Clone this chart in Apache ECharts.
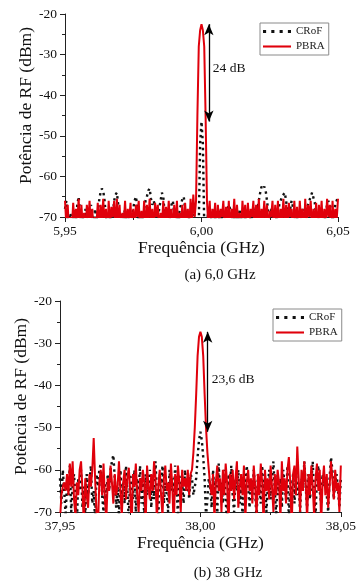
<!DOCTYPE html>
<html>
<head>
<meta charset="utf-8">
<script src="https://cdn.jsdelivr.net/npm/echarts@6/dist/echarts.min.js"></script>
<style>
html, body { margin: 0; padding: 0; background: #fff; }
#chart { width: 359px; height: 583px; }
</style>
</head>
<body>
<div id="chart"></div>
<script>
// (a) 6,0 GHz - frequencias (GHz), passo de 0,5 MHz
var freqA = [
    5.9500, 5.9505, 5.9510, 5.9515, 5.9520, 5.9525, 5.9530, 5.9535, 5.9540, 5.9545,
    5.9550, 5.9555, 5.9560, 5.9565, 5.9570, 5.9575, 5.9580, 5.9585, 5.9590, 5.9595,
    5.9600, 5.9605, 5.9610, 5.9615, 5.9620, 5.9625, 5.9630, 5.9635, 5.9640, 5.9645,
    5.9650, 5.9655, 5.9660, 5.9665, 5.9670, 5.9675, 5.9680, 5.9685, 5.9690, 5.9695,
    5.9700, 5.9705, 5.9710, 5.9715, 5.9720, 5.9725, 5.9730, 5.9735, 5.9740, 5.9745,
    5.9750, 5.9755, 5.9760, 5.9765, 5.9770, 5.9775, 5.9780, 5.9785, 5.9790, 5.9795,
    5.9800, 5.9805, 5.9810, 5.9815, 5.9820, 5.9825, 5.9830, 5.9835, 5.9840, 5.9845,
    5.9850, 5.9855, 5.9860, 5.9865, 5.9870, 5.9875, 5.9880, 5.9885, 5.9890, 5.9895,
    5.9900, 5.9905, 5.9910, 5.9915, 5.9920, 5.9925, 5.9930, 5.9935, 5.9940, 5.9945,
    5.9950, 5.9955, 5.9960, 5.9965, 5.9970, 5.9975, 5.9980, 5.9985, 5.9990, 5.9995,
    6.0000, 6.0005, 6.0010, 6.0015, 6.0020, 6.0025, 6.0030, 6.0035, 6.0040, 6.0045,
    6.0050, 6.0055, 6.0060, 6.0065, 6.0070, 6.0075, 6.0080, 6.0085, 6.0090, 6.0095,
    6.0100, 6.0105, 6.0110, 6.0115, 6.0120, 6.0125, 6.0130, 6.0135, 6.0140, 6.0145,
    6.0150, 6.0155, 6.0160, 6.0165, 6.0170, 6.0175, 6.0180, 6.0185, 6.0190, 6.0195,
    6.0200, 6.0205, 6.0210, 6.0215, 6.0220, 6.0225, 6.0230, 6.0235, 6.0240, 6.0245,
    6.0250, 6.0255, 6.0260, 6.0265, 6.0270, 6.0275, 6.0280, 6.0285, 6.0290, 6.0295,
    6.0300, 6.0305, 6.0310, 6.0315, 6.0320, 6.0325, 6.0330, 6.0335, 6.0340, 6.0345,
    6.0350, 6.0355, 6.0360, 6.0365, 6.0370, 6.0375, 6.0380, 6.0385, 6.0390, 6.0395,
    6.0400, 6.0405, 6.0410, 6.0415, 6.0420, 6.0425, 6.0430, 6.0435, 6.0440, 6.0445,
    6.0450, 6.0455, 6.0460, 6.0465, 6.0470, 6.0475, 6.0480, 6.0485, 6.0490, 6.0495,
    6.0500];
var crofA = [
    -68, -66, -71, -73, -69, -72, -70, -68, -71, -67, -65, -69, -72, -70, -73, -68,
    -71, -69, -72, -67, -70, -73, -68, -71, -69, -66, -64, -63, -63.5, -66, -70, -72,
    -69, -71, -68, -70, -66, -64.5, -64, -67, -71, -69, -73, -70, -68, -72, -69, -71,
    -73, -70, -68, -66, -65, -67.5, -71, -69, -72, -70, -68, -66, -65, -63.5, -63, -65.5,
    -67, -66, -66, -69, -71, -68, -66, -64, -65, -69, -72, -70, -68, -71, -67, -66,
    -69, -72, -70, -73, -68, -67, -65.5, -65, -68, -71, -73, -70, -68, -67, -67, -70,
    -71, -73, -72, -52, -46.5, -52, -72, -74, -71,
    -69, -72, -70, -73, -68, -71, -69, -72, -70, -68, -71, -73, -69, -70, -68, -67,
    -67, -69, -72, -70, -73, -69, -71, -68, -70, -72, -69, -71, -68, -70, -73, -69,
    -71, -68, -70, -67, -68, -66, -64, -62.5, -63, -62.5, -63.5, -66, -69, -71, -68, -72,
    -70, -68, -71, -69, -67, -66, -65, -64.5, -64, -66, -69, -70, -68, -66, -66, -69,
    -72, -70, -73, -69, -71, -68, -70, -72, -69, -67, -66, -65, -64, -64, -66.5, -70,
    -72, -69, -71, -68, -70, -72, -69, -67, -66, -66, -68, -71, -69, -67, -66, -65];
var pbraA = [
    -66, -72, -67, -74, -70, -73, -66.5, -72, -68, -71, -65.5, -73, -67, -72, -69, -74,
    -67, -71, -66, -73, -68, -75, -70, -72, -66.5, -73, -67, -71, -65.5, -72, -68, -74,
    -66, -72, -67.5, -70, -66, -73, -65.5, -72, -67, -74, -69, -72, -66, -73, -68, -71,
    -66.5, -74, -68, -72, -67, -70, -66, -73, -68.5, -72, -66, -74, -67, -71, -65.5, -72,
    -68, -73, -66.5, -70, -67, -74, -69, -72, -66, -73, -67.5, -71, -66, -72, -68, -74,
    -67, -72, -66, -73, -69, -71, -67, -74, -66.5, -72, -68, -73, -65.5, -71, -64.5, -70,
    -66, -45, -28, -24, -22.5, -24, -28, -45, -66,
    -72, -66, -73, -68, -71, -66.5, -74, -67, -72, -68, -70, -66, -73, -67.5, -72, -66,
    -74, -68, -71, -65.5, -73, -67, -72, -69, -74, -66, -71, -67, -73, -66.5, -72, -68,
    -70, -66, -74, -67, -72, -65.5, -73, -68, -71, -66, -72, -67, -74, -68.5, -70, -66,
    -73, -67, -72, -66, -74, -68, -71, -65.5, -72, -67, -73, -66.5, -70, -68, -74, -66,
    -72, -67.5, -73, -66, -71, -68, -74, -65.5, -72, -67, -70, -66, -73, -68, -72, -66.5,
    -74, -67, -71, -66, -73, -68, -72, -65.5, -70, -67, -74, -66, -72, -68, -71, -65.5];

// (b) 38 GHz
var freqB = [
    37.9500, 37.9505, 37.9510, 37.9515, 37.9520, 37.9525, 37.9530, 37.9535, 37.9540, 37.9545,
    37.9550, 37.9555, 37.9560, 37.9565, 37.9570, 37.9575, 37.9580, 37.9585, 37.9590, 37.9595,
    37.9600, 37.9605, 37.9610, 37.9615, 37.9620, 37.9625, 37.9630, 37.9635, 37.9640, 37.9645,
    37.9650, 37.9655, 37.9660, 37.9665, 37.9670, 37.9675, 37.9680, 37.9685, 37.9690, 37.9695,
    37.9700, 37.9705, 37.9710, 37.9715, 37.9720, 37.9725, 37.9730, 37.9735, 37.9740, 37.9745,
    37.9750, 37.9755, 37.9760, 37.9765, 37.9770, 37.9775, 37.9780, 37.9785, 37.9790, 37.9795,
    37.9800, 37.9805, 37.9810, 37.9815, 37.9820, 37.9825, 37.9830, 37.9835, 37.9840, 37.9845,
    37.9850, 37.9855, 37.9860, 37.9865, 37.9870, 37.9875, 37.9880, 37.9885, 37.9890, 37.9895,
    37.9900, 37.9905, 37.9910, 37.9915, 37.9920, 37.9925, 37.9930, 37.9935, 37.9940, 37.9945,
    37.9950, 37.9955, 37.9960, 37.9965, 37.9970, 37.9975, 37.9980, 37.9985, 37.9990, 37.9995,
    38.0000, 38.0005, 38.0010, 38.0015, 38.0020, 38.0025, 38.0030, 38.0035, 38.0040, 38.0045,
    38.0050, 38.0055, 38.0060, 38.0065, 38.0070, 38.0075, 38.0080, 38.0085, 38.0090, 38.0095,
    38.0100, 38.0105, 38.0110, 38.0115, 38.0120, 38.0125, 38.0130, 38.0135, 38.0140, 38.0145,
    38.0150, 38.0155, 38.0160, 38.0165, 38.0170, 38.0175, 38.0180, 38.0185, 38.0190, 38.0195,
    38.0200, 38.0205, 38.0210, 38.0215, 38.0220, 38.0225, 38.0230, 38.0235, 38.0240, 38.0245,
    38.0250, 38.0255, 38.0260, 38.0265, 38.0270, 38.0275, 38.0280, 38.0285, 38.0290, 38.0295,
    38.0300, 38.0305, 38.0310, 38.0315, 38.0320, 38.0325, 38.0330, 38.0335, 38.0340, 38.0345,
    38.0350, 38.0355, 38.0360, 38.0365, 38.0370, 38.0375, 38.0380, 38.0385, 38.0390, 38.0395,
    38.0400, 38.0405, 38.0410, 38.0415, 38.0420, 38.0425, 38.0430, 38.0435, 38.0440, 38.0445,
    38.0450, 38.0455, 38.0460, 38.0465, 38.0470, 38.0475, 38.0480, 38.0485, 38.0490, 38.0495,
    38.0500];
var crofB = [
    -62, -68, -60, -65, -71, -63, -66, -59, -70, -64, -61, -67, -73, -62, -65, -60,
    -69, -64, -71, -61, -66, -63, -59, -68, -65, -72, -61, -64, -60, -58.5, -66, -70,
    -63, -67, -61, -65, -60, -58, -56.5, -62, -69, -64, -71, -60, -66, -63, -68, -59,
    -65, -72, -61, -64, -67, -60, -70, -62, -65, -59, -68, -63, -71, -61, -66, -64,
    -60, -69, -62, -67, -58, -65, -72, -61, -64, -59, -68, -63, -66, -70, -60, -65,
    -62, -67, -59, -64, -71, -61, -66, -63, -68, -60, -65, -62, -67, -61,
    -62, -66, -64, -62, -57, -53, -51, -53, -57, -62, -71, -67, -62,
    -64, -69, -60, -66, -62, -71, -58.5, -65, -63, -68, -60, -67, -73, -61, -64, -59,
    -66, -70, -62, -65, -60, -68, -63, -71, -61, -66, -59, -64, -69, -62, -67, -60,
    -65, -72, -61, -63, -68, -59, -66, -62, -70, -64, -60, -67, -63, -58, -65, -71,
    -61, -66, -62, -69, -60, -64, -67, -59, -72, -63, -65, -61, -68, -60, -66, -63,
    -70, -62, -65, -58, -64, -69, -61, -67, -63, -58, -66, -71, -62, -59, -65,
    -68, -61, -64, -63, -66, -70, -62, -57, -60, -67, -63, -61, -65, -69, -62];
var pbraB = [
    -72, -66, -64, -63, -65, -61, -66, -58.5, -64, -58, -67, -71, -63, -66, -60, -58,
    -65, -73, -62, -66, -69, -61, -64, -60, -52.5, -62, -70, -74, -63, -60, -66, -58.5,
    -67, -72, -62, -65, -59, -63, -68, -61, -66, -64, -58, -65, -71, -63, -60, -67,
    -62, -59.5, -65, -74, -61, -64, -58.5, -66, -70, -62, -65, -60, -63, -73, -59, -64,
    -67, -61, -65, -58, -62, -72, -64, -60, -66, -71, -62, -59, -65, -63, -68, -58.5,
    -64, -74, -61, -66, -59, -63, -70, -60, -64, -62, -65, -60, -66, -61,
    -60, -56, -50, -42, -33, -28.5, -27.3, -28.5, -33, -42, -50, -56, -60,
    -64, -66, -61, -72, -63, -59, -65, -62, -70, -60, -66, -58.5, -63, -74, -61, -65,
    -60, -67, -62, -58, -69, -64, -61, -66, -59, -72, -63, -60, -65, -62, -68, -59,
    -64, -71, -61, -66, -58.5, -63, -73, -60, -65, -62, -67, -59, -64, -70, -61, -66,
    -60, -63, -72, -58, -65, -62, -68, -60, -57, -63, -74, -61, -59, -66, -54.5, -62,
    -70, -60, -65, -58, -63, -72, -61, -66, -59, -64, -71, -62, -58.5, -65, -60,
    -73, -63, -59, -66, -61, -69, -64, -58, -62, -67, -60, -65, -63, -70, -59];

var SERIF = 'Liberation Serif';
var RED = '#e0000b';
// icones da legenda: pontos (CRoF) e traco continuo (PBRA)
var ICON_DOTS = 'path://M0,0h3v3h-3z M8,0h3v3h-3z M16,0h3v3h-3z M24,0h3v3h-3z';
var ICON_LINE = 'path://M0,0h27v2h-27z';

function pairs(xs, ys) {
    var out = [];
    for (var i = 0; i < xs.length; i++) {
        out.push([xs[i], ys[i]]);
    }
    return out;
}
function maxOf(arr) {
    return Math.max.apply(null, arr);
}
function comma(v) {
    return v.toFixed(2).replace('.', ',');
}

function xAxisFor(gi, min, max) {
    return {
        gridIndex: gi,
        type: 'value',
        min: min,
        max: max,
        interval: 0.05,
        name: 'Frequência (GHz)',
        nameLocation: 'middle',
        nameGap: 22,
        nameMoveOverlap: false,
        nameTextStyle: { fontFamily: SERIF, fontSize: 17.5, color: '#111' },
        axisLine: { show: true, onZero: false, lineStyle: { color: '#222', width: 1 } },
        axisTick: { show: true, length: 5, lineStyle: { color: '#222' } },
        minorTick: { show: true, splitNumber: 2, length: 3, lineStyle: { color: '#222' } },
        axisLabel: { fontFamily: SERIF, fontSize: 13.5, color: '#111', margin: 7, formatter: comma },
        splitLine: { show: false }
    };
}
function yAxisFor(gi) {
    return {
        gridIndex: gi,
        type: 'value',
        min: -70,
        max: -20,
        interval: 10,
        name: 'Potência de RF (dBm)',
        nameLocation: 'middle',
        nameGap: 30,
        nameMoveOverlap: false,
        nameTextStyle: { fontFamily: SERIF, fontSize: 17.5, color: '#111', padding: [0, 0, 0, 20] },
        axisLine: { show: true, onZero: false, lineStyle: { color: '#222', width: 1 } },
        axisTick: { show: true, length: 5, lineStyle: { color: '#222' } },
        minorTick: { show: true, splitNumber: 2, length: 3, lineStyle: { color: '#222' } },
        axisLabel: { fontFamily: SERIF, fontSize: 13.5, color: '#111', margin: 8 },
        splitLine: { show: false }
    };
}
function legendFor(left, top) {
    return {
        left: left,
        top: top,
        orient: 'vertical',
        data: [
            { name: 'CRoF', icon: ICON_DOTS },
            { name: 'PBRA', icon: ICON_LINE }
        ],
        itemWidth: 28,
        itemHeight: 8,
        itemGap: 4,
        padding: [3, 4, 3, 3],
        borderColor: '#8a8a8a',
        borderWidth: 1,
        backgroundColor: '#fff',
        textStyle: { fontFamily: SERIF, fontSize: 11, color: '#222' },
        selectedMode: false
    };
}
function crofSeries(gi, xs, ys) {
    return {
        name: 'CRoF',
        type: 'line',
        xAxisIndex: gi,
        yAxisIndex: gi,
        symbol: 'none',
        data: pairs(xs, ys),
        lineStyle: { color: '#111', width: 2.4, type: [2.4, 3.6] },
        itemStyle: { color: '#111' },
        z: 2
    };
}
function pbraSeries(gi, xs, ys, peakLow, arrowX, label, labelY) {
    var top = maxOf(ys);
    return {
        name: 'PBRA',
        type: 'line',
        xAxisIndex: gi,
        yAxisIndex: gi,
        symbol: 'none',
        data: pairs(xs, ys),
        lineStyle: { color: RED, width: 2 },
        itemStyle: { color: RED },
        z: 3,
        markLine: {
            silent: true,
            symbol: ['arrow', 'arrow'],
            symbolSize: [7, 11],
            label: { show: false },
            lineStyle: { color: '#000', width: 1.3, type: 'solid' },
            data: [[{ coord: [arrowX, top] }, { coord: [arrowX, peakLow] }]]
        },
        markPoint: {
            silent: true,
            symbol: 'circle',
            symbolSize: 0,
            label: {
                show: true,
                position: 'right',
                distance: 4,
                formatter: '{b}',
                fontFamily: SERIF,
                fontSize: 13.5,
                color: '#111'
            },
            data: [{ name: label, coord: [arrowX, labelY] }]
        }
    };
}

var myChart = echarts.init(document.getElementById('chart'), null, { renderer: 'canvas' });
var option = {
    animation: false,
    backgroundColor: '#fff',
    grid: [
        { left: 65, top: 14, width: 273, height: 203 },
        { left: 60, top: 301, width: 285, height: 211 }
    ],
    xAxis: [xAxisFor(0, 5.95, 6.05), xAxisFor(1, 37.95, 38.05)],
    yAxis: [yAxisFor(0), yAxisFor(1)],
    legend: [legendFor(260, 23), legendFor(273, 309)],
    series: [
        crofSeries(0, freqA, crofA),
        pbraSeries(0, freqA, pbraA, maxOf(crofA), 6.0027, '24 dB', -33.5),
        crofSeries(1, freqB, crofB),
        pbraSeries(1, freqB, pbraB, maxOf(crofB), 38.0026, '23,6 dB', -38.5)
    ],
    graphic: [
        { type: 'text', x: 220, y: 275, style: { text: '(a) 6,0 GHz', font: '15px "Liberation Serif"', fill: '#111', align: 'center', verticalAlign: 'middle' } },
        { type: 'text', x: 228, y: 573, style: { text: '(b) 38 GHz', font: '15px "Liberation Serif"', fill: '#111', align: 'center', verticalAlign: 'middle' } }
    ]
};
myChart.setOption(option);
</script>
</body>
</html>
